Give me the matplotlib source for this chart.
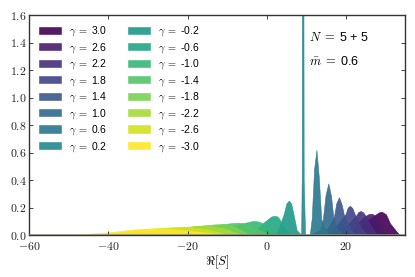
import numpy as np
import matplotlib
matplotlib.use("Agg")
import matplotlib.pyplot as plt
from matplotlib.ticker import FuncFormatter

plt.rcParams['mathtext.fontset'] = 'cm'
plt.rcParams['font.family'] = ['Liberation Sans', 'DejaVu Sans']

gammas = [3.0, 2.6, 2.2, 1.8, 1.4, 1.0, 0.6, 0.2,
          -0.2, -0.6, -1.0, -1.4, -1.8, -2.2, -2.6, -3.0]
n_text = "5 + 5"
mbar_text = "0.6"

# Re[S] distributions (one outline per gamma)
g30_x = [19, 23, 26, 27.4, 28.4, 29.1, 30.2, 31.2, 32.9, 33.6]
g30_y = [0, 0.05, 0.12, 0.146, 0.165, 0.17, 0.15, 0.085, 0.024, 0]
g26_x = [17, 22, 25.0, 25.8, 26.4, 27.0, 27.6, 29, 30.5]
g26_y = [0, 0.06, 0.14, 0.152, 0.155, 0.15, 0.13, 0.06, 0]
g22_x = [15, 20, 22.7, 23.2, 23.8, 24.4, 25.0, 26.5, 28]
g22_y = [0, 0.06, 0.145, 0.168, 0.175, 0.165, 0.14, 0.06, 0]
g18_x = [13, 17.5, 20.0, 20.5, 21.1, 21.7, 22.3, 23.8, 25.5]
g18_y = [0, 0.06, 0.155, 0.2, 0.213, 0.195, 0.15, 0.06, 0]
g14_x = [11.5, 15.5, 17.0, 17.6, 18.3, 19.0, 19.6, 21, 22.5]
g14_y = [0, 0.05, 0.13, 0.23, 0.275, 0.22, 0.14, 0.05, 0]
g10_x = [11, 13.5, 14.2, 14.9, 15.6, 16.3, 16.9, 18.0, 19.5]
g10_y = [0, 0.04, 0.11, 0.29, 0.376, 0.28, 0.12, 0.04, 0]
g06_x = [10.9, 11.4, 12.0, 12.6, 13.2, 13.8, 14.5, 16]
g06_y = [0, 0.12, 0.48, 0.62, 0.42, 0.12, 0.06, 0]
g02_x = [8.85, 9.0, 9.12, 9.38, 9.5, 9.85]
g02_y = [0, 0.4, 3.0, 3.0, 0.4, 0]
gm02_x = [2.5, 3.8, 4.4, 5.0, 5.6, 6.2, 6.8, 7.6, 8.8]
gm02_y = [0, 0.11, 0.16, 0.23, 0.25, 0.23, 0.15, 0.036, 0]
gm06_x = [-4, -1, 0.3, 1.2, 1.9, 2.7, 3.3, 4.2, 6]
gm06_y = [0, 0.085, 0.115, 0.135, 0.14, 0.135, 0.115, 0.06, 0]
gm10_x = [-12, -7, -4.8, -3.8, -3.0, -2.0, -1.0, 0.5, 3]
gm10_y = [0, 0.08, 0.093, 0.1, 0.102, 0.098, 0.085, 0.05, 0]
gm14_x = [-20, -12, -8.5, -7, -5, -2, 1]
gm14_y = [0, 0.075, 0.088, 0.09, 0.08, 0.04, 0]
gm18_x = [-28, -18, -13, -11, -8, -4]
gm18_y = [0, 0.065, 0.078, 0.08, 0.06, 0]
gm22_x = [-36, -24, -18, -15, -11, -6]
gm22_y = [0, 0.05, 0.066, 0.068, 0.05, 0]
gm26_x = [-42, -30, -23, -20, -15, -9]
gm26_y = [0, 0.045, 0.058, 0.06, 0.04, 0]
gm30_x = [-49, -40, -32, -28, -22, -16, -10]
gm30_y = [0, 0.02, 0.045, 0.048, 0.04, 0.02, 0]

all_x = [g30_x, g26_x, g22_x, g18_x, g14_x, g10_x, g06_x, g02_x,
         gm02_x, gm06_x, gm10_x, gm14_x, gm18_x, gm22_x, gm26_x, gm30_x]
all_y = [g30_y, g26_y, g22_y, g18_y, g14_y, g10_y, g06_y, g02_y,
         gm02_y, gm06_y, gm10_y, gm14_y, gm18_y, gm22_y, gm26_y, gm30_y]

colors = plt.cm.viridis(np.linspace(0, 1, len(gammas)))

fig = plt.figure(figsize=(4.15, 2.77), dpi=100)
ax = fig.add_axes([0.0706, 0.1516, 0.9054, 0.7934])

for g, xs, ys, c in zip(gammas, all_x, all_y, colors):
    ax.fill_between(xs, ys, 0, color=c, alpha=0.9, lw=0.4,
                    label=r'$\gamma\;=\;$' + f'{g:.1f}')

ax.axhline(0, color='#8a8a80', lw=1.8, zorder=5)

ax.set_xlim(-60, 35)
ax.set_ylim(0, 1.6)
ax.set_xticks([-60, -40, -20, 0, 20])
ax.set_yticks(np.arange(0, 1.61, 0.2))
ax.xaxis.set_major_formatter(FuncFormatter(lambda v, p: f'${v:g}$'))
ax.yaxis.set_major_formatter(FuncFormatter(lambda v, p: f'${v:.1f}$'))
ax.tick_params(direction='in', top=True, right=True, length=3, width=0.6,
               labelsize=8.5, pad=2, colors='#222222')
ax.tick_params(axis='x', pad=4)
for s in ax.spines.values():
    s.set_color('#333333')
    s.set_linewidth(1.0)

ax.set_xlabel(r'$\Re[S]$', fontsize=9, labelpad=1)

ax.text(0.745, 0.885, r'$N\;=\;$' + n_text, transform=ax.transAxes, fontsize=9)
ax.text(0.745, 0.775, r'$\bar{m}\;=\;$' + mbar_text, transform=ax.transAxes, fontsize=9)

ax.legend(loc='upper left', ncol=2, frameon=False, fontsize=7.5,
          handlelength=2.1, handleheight=0.7, labelspacing=0.25,
          handletextpad=0.8, columnspacing=2.0,
          borderaxespad=0.5, borderpad=0.4)

fig.savefig("out.png", dpi=100)
